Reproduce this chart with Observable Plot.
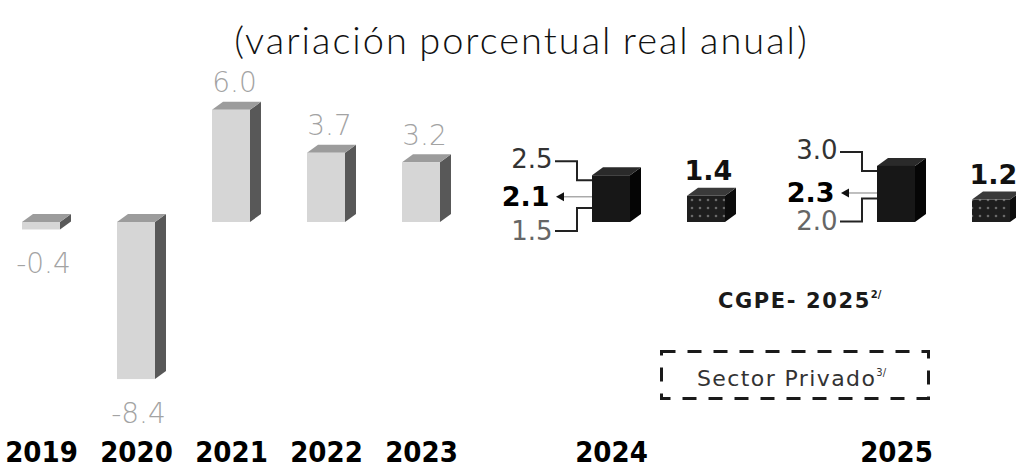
<!DOCTYPE html>
<html><head><meta charset="utf-8">
<script src="https://cdn.jsdelivr.net/npm/d3@7"></script>
<script src="https://cdn.jsdelivr.net/npm/@observablehq/plot@0.6"></script>
<style>
body{margin:0;background:#fff;}
#wrap{position:relative;width:1016px;height:468px;overflow:hidden;background:#fff;}
#title{position:absolute;left:0;top:20px;width:1016px;text-align:center;padding-left:27px;box-sizing:border-box;line-height:1;
  font-family:Lato,sans-serif;font-weight:300;font-size:38px;color:#111;letter-spacing:2px;word-spacing:-2px;white-space:nowrap;}
#chart{position:absolute;left:0;top:60px;}
#leg1{position:absolute;left:718px;top:289px;font-family:"DejaVu Sans",sans-serif;font-weight:bold;font-size:21px;letter-spacing:1.6px;color:#1a1a1a;}
#leg2{position:absolute;left:697px;top:366px;font-family:"DejaVu Sans",sans-serif;font-size:22px;letter-spacing:1.4px;color:#333;}
#leg1 sup,#leg2 sup{font-size:10px;letter-spacing:0;vertical-align:10px;}
#legbox{position:absolute;left:660px;top:350px;width:270px;height:50px;box-sizing:border-box;}
</style></head><body>
<div id="wrap">
<div id="title">(variación porcentual real anual)</div>
<div id="chart"></div>
<div id="leg1">CGPE- 2025<sup>2/</sup></div>
<svg id="legbox" width="270" height="50"><rect x="1.5" y="1.5" width="267" height="47" fill="none" stroke="#1a1a1a" stroke-width="3" stroke-dasharray="14,12"/></svg>
<div id="leg2">Sector Privado<sup>3/</sup></div>
</div>
<script>
// ---- data ----
const years = ["2019", "2020", "2021", "2022", "2023"];
const growth = [-0.4, -8.4, 6.0, 3.7, 3.2];
const forecastYears = ["2024", "2025"];
const cgpeLow = [1.5, 2.0];
const cgpePoint = [2.1, 2.3];
const cgpeHigh = [2.5, 3.0];
const privateSector = [1.4, 1.2];

// ---- tables ----
const slots = [...years];
forecastYears.forEach(y => slots.push("gap " + y, y, y + " SP"));
const hist = years.map((y, i) => ({slot: y, value: growth[i]}));
const cgpe = forecastYears.map((y, i) => ({slot: y, low: cgpeLow[i], point: cgpePoint[i], high: cgpeHigh[i]}));
const priv = forecastYears.map((y, i) => ({slot: y + " SP", value: privateSector[i]}));

const NS = "http://www.w3.org/2000/svg";
function el(name, attrs) {
  const e = document.createElementNS(NS, name);
  for (const k in attrs) e.setAttribute(k, attrs[k]);
  return e;
}
const DX = 11, DY = 8;
// side and top faces of the 3D boxes
function prism(rows, get, side, top) {
  return (index, scales) => {
    const g = el("g", {});
    const bw = scales.x.bandwidth();
    for (const d of rows) {
      const v = get(d);
      const xl = scales.x(d.slot), xr = xl + bw;
      const yt = scales.y(Math.max(0, v)), yb = scales.y(Math.min(0, v));
      g.appendChild(el("polygon", {points: `${xr},${yt} ${xr + DX},${yt - DY} ${xr + DX},${yb - DY} ${xr},${yb}`, fill: side}));
      g.appendChild(el("polygon", {points: `${xl},${yt} ${xl + DX},${yt - DY} ${xr + DX},${yt - DY} ${xr},${yt}`, fill: top}));
    }
    return g;
  };
}
function dotsDefs() {
  const defs = el("defs", {});
  const p = el("pattern", {id: "dots", width: 8, height: 8, patternUnits: "userSpaceOnUse"});
  p.appendChild(el("rect", {width: 8, height: 8, fill: "#1e1e1e"}));
  p.appendChild(el("circle", {cx: 4, cy: 4, r: 1.3, fill: "#6a6a6a"}));
  defs.appendChild(p);
  return defs;
}
const GAP = 40, MID = 15, LOW_DY = 37;
function brackets(index, scales) {
  const g = el("g", {});
  for (const d of cgpe) {
    const xl = scales.x(d.slot);
    const xe = xl - GAP + 3, xm = xl - MID;
    const yH = scales.y(d.high), yL = scales.y(d.low), yP = scales.y(d.point) + 14;
    const up = `${xe},${yH - 14} ${xm},${yH - 14} ${xm},${yH + 5} ${xl},${yH + 5}`;
    const lo = `${xl},${yL + 14} ${xm},${yL + 14} ${xm},${yL + LOW_DY} ${xe},${yL + LOW_DY}`;
    g.appendChild(el("polyline", {points: up, fill: "none", stroke: "#222", "stroke-width": 2}));
    g.appendChild(el("polyline", {points: lo, fill: "none", stroke: "#222", "stroke-width": 2}));
    g.appendChild(el("line", {x1: xl, y1: yP, x2: xe + 8, y2: yP, stroke: "#aaa", "stroke-width": 1.5}));
    g.appendChild(el("polygon", {points: `${xe + 1},${yP} ${xe + 9},${yP - 4.5} ${xe + 9},${yP + 4.5}`, fill: "#111"}));
  }
  return g;
}

const chart = Plot.plot({
  width: 1016,
  height: 408,
  marginTop: 0, marginLeft: 0, marginRight: 0, marginBottom: 40,
  x: {type: "band", domain: slots, range: [22, 1010], paddingInner: 0.6, paddingOuter: 0, align: 0.5},
  y: {domain: [-9, 8], range: [330.3, 12.4], axis: null},
  marks: [
    dotsDefs,
    prism(hist, d => d.value, "#585858", "#9c9c9c"),
    prism(cgpe, d => d.high, "#050505", "#2a2a2a"),
    prism(priv, d => d.value, "#0c0c0c", "#3a3a3a"),
    Plot.barY(hist, {x: "slot", y: "value", fill: "#d6d6d6"}),
    Plot.barY(cgpe, {x: "slot", y: "high", fill: "#171717"}),
    Plot.barY(priv, {x: "slot", y: "value", fill: "url(#dots)"}),
    Plot.text(hist.filter(d => d.value >= 0), {x: "slot", y: "value", text: d => d.value.toFixed(1), dx: 3, dy: -27,
      fill: "#a3a3a3", fontSize: 28, fontFamily: "DejaVu Sans", fontWeight: 300}),
    Plot.text(hist.filter(d => d.value < 0), {x: "slot", y: "value", text: d => d.value.toFixed(1), dx: 2, dy: 34,
      fill: "#a3a3a3", fontSize: 28, fontFamily: "DejaVu Sans", fontWeight: 300}),
    Plot.text(priv, {x: "slot", y: "value", text: d => d.value.toFixed(1), dx: 2, dy: -25,
      fill: "#111", fontSize: 27, fontFamily: "DejaVu Sans", fontWeight: "bold"}),
    brackets,
    Plot.text(cgpe, {x: "slot", y: "high", text: d => d.high.toFixed(1), dx: -19 - GAP, dy: -16, textAnchor: "end",
      fill: "#333", fontSize: 26, fontFamily: "DejaVu Sans"}),
    Plot.text(cgpe, {x: "slot", y: "point", text: d => d.point.toFixed(1), dx: -19 - GAP - 3, dy: 14, textAnchor: "end",
      fill: "#000", fontSize: 27, fontFamily: "DejaVu Sans", fontWeight: "bold"}),
    Plot.text(cgpe, {x: "slot", y: "low", text: d => d.low.toFixed(1), dx: -19 - GAP, dy: LOW_DY, textAnchor: "end",
      fill: "#666", fontSize: 26, fontFamily: "DejaVu Sans"}),
    Plot.axisX({ticks: [...years, ...forecastYears], tickSize: 0, tickPadding: 13, fontSize: 29, fontWeight: "bold",
      fontFamily: "DejaVu Sans Condensed", fill: "#000", label: null})
  ]
});
document.getElementById("chart").appendChild(chart);
</script>
</body></html>
